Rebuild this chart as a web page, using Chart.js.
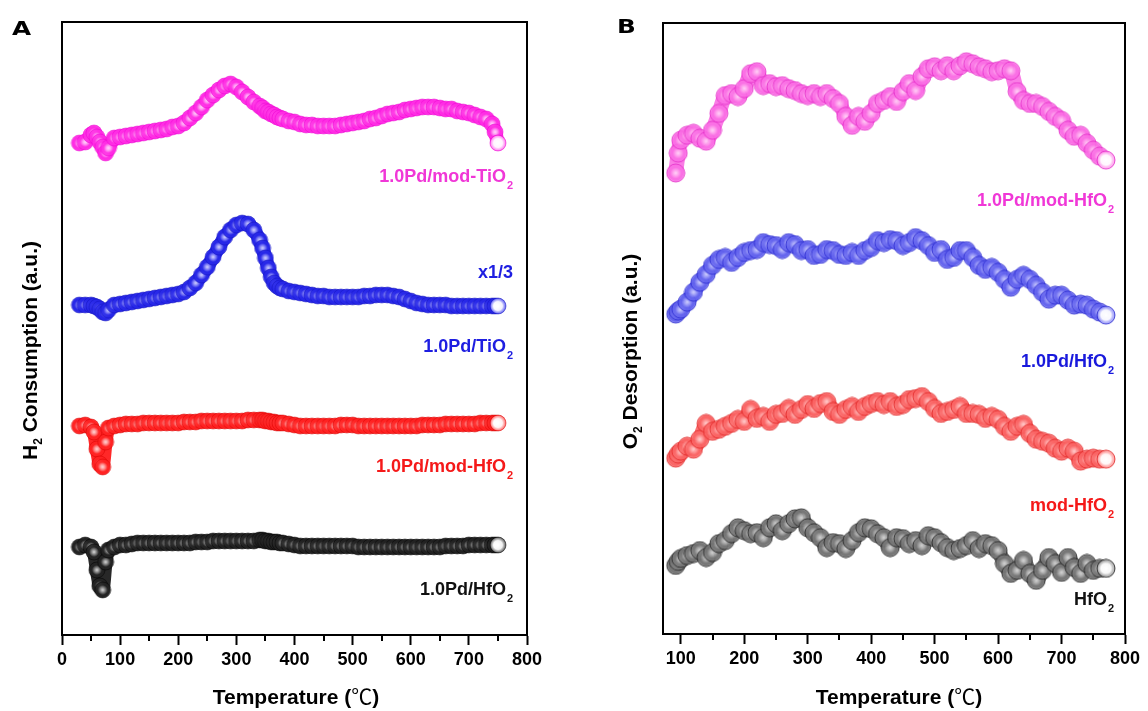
<!DOCTYPE html>
<html>
<head>
<meta charset="utf-8">
<script src="https://cdn.jsdelivr.net/npm/chart.js@4.4.0/dist/chart.umd.min.js"></script>
<style>
  html, body { margin: 0; padding: 0; background: #fff; }
  #page { position: relative; width: 1148px; height: 711px; overflow: hidden;
          font-family: "Liberation Sans", Arial, sans-serif; font-weight: bold; color: #000; }
  canvas { position: absolute; top: 0; }
  .letter { position: absolute; font-family: "DejaVu Sans", sans-serif; font-size: 19px; line-height: 20px;
            transform-origin: left top; transform: scaleX(1.3); }
  .xtitle { position: absolute; width: 300px; text-align: center; font-size: 21px; line-height: 21px; white-space: nowrap; }
  .ytitle { position: absolute; width: 400px; height: 21px; text-align: center; font-size: 21px; line-height: 21px;
            white-space: nowrap; transform: rotate(-90deg); }
  .deg { font-family: "Noto Sans CJK SC", sans-serif; font-weight: normal; }
  sub { font-size: 12px; line-height: 0; vertical-align: -5px; }
</style>
</head>
<body>
<div id="page">
  <canvas id="chartA" width="560" height="711" style="left:0"></canvas>
  <canvas id="chartB" width="558" height="711" style="left:590px"></canvas>
  <div class="letter" style="left:12px; top:18px">A</div>
  <div class="letter" style="left:617px; top:16px">B</div>
  <div class="xtitle" style="left:146px; top:685px">Temperature (<span class="deg">℃</span>)</div>
  <div class="xtitle" style="left:749px; top:685px">Temperature (<span class="deg">℃</span>)</div>
  <div class="ytitle" style="left:-171px; top:340px">H<sub>2</sub> Consumption (a.u.)</div>
  <div class="ytitle" style="left:429px; top:341px">O<sub>2</sub> Desorption (a.u.)</div>
</div>
<script>
/* Panel A: H2-TPR, temperatures in degC */
const tempsA = [30, 40, 50, 55, 60, 65, 70, 75, 80,
  90, 100, 110, 120, 130, 140, 150, 160, 170, 180,
  190, 200, 210, 220, 230, 240, 250, 260, 270, 280,
  290, 300, 310, 320, 330, 340,
  345, 350, 355, 360, 365, 370, 375, 380,
  390, 400, 410, 420, 430, 440, 450, 460, 470, 480,
  490, 500, 510, 520, 530, 540, 550, 560, 570, 580,
  590, 600, 610, 620, 630, 640, 650, 660, 670, 680,
  690, 700, 710, 720, 730, 740,
  745, 750];

const pdModTiO2 = [489, 490, 497, 499, 495, 490, 485, 479, 484,
  494, 495, 496, 497, 498, 499, 500, 501, 502, 503,
  505, 506, 509, 514, 519, 525, 532, 537, 542, 546,
  548, 545, 540, 535, 530, 526,
  524, 521, 520, 518, 517, 515, 514, 513,
  511, 510, 508, 507, 507, 506, 506, 506, 506, 507,
  508, 509, 510, 511, 513, 514, 516, 518, 519, 520,
  522, 523, 524, 525, 525, 525, 524, 523, 523, 521,
  520, 519, 517, 515, 513, 508,
  500, 489];

const pdTiO2 = [327, 327, 327, 326, 325, 323, 320, 319, 322,
  327, 328, 329, 330, 331, 332, 333, 334, 335, 336,
  337, 338, 340, 344, 349, 357, 365, 375, 385, 395,
  402, 407, 409, 408, 402, 392,
  384, 374, 364, 355, 349, 346, 344, 343,
  341, 340, 339, 338, 337, 336, 336, 335, 335, 335,
  335, 335, 335, 336, 336, 337, 337, 337, 336, 335,
  333, 331, 329, 328, 327, 327, 327, 327, 326, 326,
  326, 326, 326, 326, 326, 326,
  326, 326];

const pdModHfO2A = [206, 207, 205, 200, 183, 168, 165, 190, 204,
  206, 207, 208, 208, 208, 209, 209, 209, 209, 209,
  209, 209, 210, 210, 210, 211, 211, 211, 211, 211,
  211, 211, 211, 212, 212, 212,
  212, 211, 211, 210, 210, 209, 209, 209,
  208, 207, 206, 206, 206, 206, 206, 206, 206, 207,
  207, 207, 206, 206, 206, 206, 206, 206, 206, 206,
  206, 206, 206, 207, 207, 207, 207, 208, 208, 208,
  208, 208, 208, 209, 209, 209,
  209, 209];

const pdHfO2A = [85, 87, 85, 80, 62, 46, 42, 70, 82,
  85, 87, 87, 88, 89, 89, 89, 89, 89, 89,
  89, 89, 89, 89, 90, 90, 90, 91, 91, 91,
  91, 91, 91, 91, 91, 92,
  92, 91, 91, 90, 90, 90, 89, 89,
  88, 87, 86, 86, 86, 86, 86, 86, 86, 86,
  86, 86, 85, 85, 85, 85, 85, 85, 85, 85,
  85, 85, 85, 85, 85, 85, 85, 86, 86, 86,
  86, 87, 87, 87, 87, 87,
  87, 87];

/* Panel B: O2-TPD */
const tempsB = [92, 96,
  100, 110, 120, 130, 140, 150, 160, 170, 180, 190,
  200, 210, 220, 230, 240, 250, 260, 270, 280, 290,
  300, 310, 320, 330, 340, 350, 360, 370, 380, 390,
  400, 410, 420, 430, 440, 450, 460, 470, 480, 490,
  500, 510, 520, 530, 540, 550, 560, 570, 580, 590,
  600, 610, 620, 630, 640, 650, 660, 670, 680, 690,
  700, 710, 720, 730, 740, 750, 760, 770];

const pdModHfO2B = [463, 483,
  496, 501, 503, 498, 495, 506, 523, 541, 543, 540,
  548, 563, 565, 551, 553, 550, 551, 548, 546, 543,
  541, 543, 540, 543, 538, 533, 520, 511, 520, 515,
  523, 533, 536, 540, 535, 545, 553, 546, 560, 568,
  570, 566, 571, 566, 571, 575, 573, 570, 568, 565,
  566, 568, 566, 545, 536, 533, 533, 530, 525, 520,
  516, 506, 500, 501, 493, 486, 480, 476];

const pdHfO2B = [321, 324,
  326, 333, 343, 353, 361, 370, 376, 378, 373, 378,
  383, 385, 386, 393, 391, 390, 386, 393, 391, 385,
  386, 380, 381, 386, 385, 381, 380, 383, 380, 385,
  388, 395, 393, 396, 395, 390, 393, 398, 395, 390,
  383, 386, 376, 378, 385, 385, 378, 370, 366, 368,
  363, 356, 348, 356, 360, 356, 350, 343, 336, 340,
  340, 335, 330, 331, 330, 326, 323, 320];

const modHfO2B = [176, 180,
  183, 188, 185, 195, 211, 203, 205, 208, 211, 215,
  213, 225, 216, 218, 213, 220, 221, 226, 220, 225,
  230, 226, 231, 233, 223, 220, 225, 228, 223, 228,
  231, 233, 230, 233, 228, 230, 235, 236, 238, 233,
  226, 221, 223, 225, 228, 221, 221, 220, 216, 218,
  215, 208, 203, 208, 210, 201, 195, 193, 191, 186,
  183, 186, 183, 173, 175, 176, 175, 175];

const hfO2B = [68, 72,
  75, 78, 80, 83, 76, 81, 90, 93, 100, 106,
  103, 100, 101, 96, 106, 110, 103, 110, 115, 116,
  106, 101, 96, 86, 91, 90, 85, 93, 101, 106,
  105, 100, 96, 86, 96, 95, 90, 93, 88, 98,
  96, 91, 86, 83, 85, 88, 93, 85, 90, 88,
  83, 70, 60, 63, 73, 60, 53, 63, 76, 70,
  61, 76, 66, 60, 70, 63, 65, 65];

const ticksMinorA = [50, 150, 250, 350, 450, 550, 650, 750];
const ticksMinorB = [150, 250, 350, 450, 550, 650, 750];

const FONT = '"Liberation Sans", Arial, sans-serif';

/* circle sprite with a shaded fill, used as point style */
function makeSprite(r, stops, line) {
    const s = Math.ceil(r * 2 + 2);
    const c = document.createElement('canvas');
    c.width = s; c.height = s;
    const g = c.getContext('2d');
    const m = s / 2;
    const grad = g.createRadialGradient(m, m, 0, m, m, r);
    stops.forEach(st => grad.addColorStop(st[0], st[1]));
    g.beginPath();
    g.arc(m, m, r, 0, Math.PI * 2);
    g.fillStyle = grad;
    g.fill();
    g.lineWidth = 1;
    g.strokeStyle = line;
    g.stroke();
    return c;
}

/* body sprite + the brighter one that ends the curve */
function spritePair(r, light, color, line, core) {
    return {
        body: makeSprite(r, [[0, core], [0.28, light], [0.62, color], [1, color]], line),
        end: makeSprite(r, [[0, 'rgba(255,255,255,1)'], [0.55, 'rgba(255,255,255,0.95)'], [0.85, light], [1, color]], line),
    };
}

/* frame, minor ticks and curve labels */
const panelDecor = {
    id: 'panelDecor',
    afterDraw(chart, args, opts) {
        const { ctx, chartArea: a } = chart;
        const x = chart.scales.x, y = chart.scales.y;
        ctx.save();
        ctx.strokeStyle = '#000';
        ctx.lineWidth = 2;
        ctx.strokeRect(a.left, a.top, a.right - a.left, a.bottom - a.top);
        opts.minor.forEach(v => {
            const px = Math.round(x.getPixelForValue(v));
            ctx.beginPath();
            ctx.moveTo(px, a.bottom);
            ctx.lineTo(px, a.bottom + 6);
            ctx.stroke();
        });
        ctx.textBaseline = 'alphabetic';
        opts.labels.forEach(lab => {
            ctx.font = 'bold 18px ' + FONT;
            const w1 = ctx.measureText(lab.text).width;
            ctx.font = 'bold 11px ' + FONT;
            const w2 = lab.sub ? ctx.measureText(lab.sub).width + 1 : 0;
            const right = x.getPixelForValue(lab.at[0]);
            const base = y.getPixelForValue(lab.at[1]);
            const start = right - w1 - w2;
            ctx.fillStyle = lab.color;
            ctx.font = 'bold 18px ' + FONT;
            ctx.fillText(lab.text, start, base);
            if (lab.sub) {
                ctx.font = 'bold 11px ' + FONT;
                ctx.fillText(lab.sub, start + w1 + 1, base + 7);
            }
        });
        ctx.restore();
    }
};

function makePanel(canvasId, temps, series, range, minor, labels, pad, axisH, band) {
    const datasets = series.map(s => ({
        data: temps.map((t, i) => ({ x: t, y: s.values[i] })),
        showLine: true,
        borderColor: s.band,
        borderWidth: band,
        borderCapStyle: 'round',
        borderJoinStyle: 'round',
        tension: 0.25,
        pointStyle: c => (c.dataIndex === temps.length - 1 ? s.sprites.end : s.sprites.body),
        pointRadius: 8,
        pointHoverRadius: 8,
    }));
    return new Chart(document.getElementById(canvasId), {
        type: 'scatter',
        data: { datasets },
        options: {
            animation: false,
            responsive: false,
            devicePixelRatio: 1,
            events: [],
            layout: { padding: pad },
            plugins: {
                legend: { display: false },
                tooltip: { enabled: false },
                panelDecor: { minor, labels },
            },
            scales: {
                x: {
                    type: 'linear',
                    min: range.x[0],
                    max: range.x[1],
                    afterFit: s => { s.height = axisH; },
                    ticks: {
                        stepSize: 100,
                        includeBounds: false,
                        maxRotation: 0,
                        padding: 4,
                        color: '#000',
                        font: { family: FONT, size: 18, weight: 'bold' },
                    },
                    grid: { drawOnChartArea: false, tickLength: 10, tickWidth: 2, tickColor: '#000' },
                    border: { display: true, color: '#000', width: 2 },
                },
                y: { display: false, min: range.y[0], max: range.y[1] },
            },
        },
        plugins: [panelDecor],
    });
}

/* sprites */
const rA = 8, rB = 9;
const pinkA = spritePair(rA, 'rgba(255,170,245,0.9)', 'rgba(255,45,228,0.9)', 'rgba(235,0,210,0.5)', 'rgba(255,235,252,0.9)');
const blueA = spritePair(rA, 'rgba(150,150,250,0.9)', 'rgba(40,40,232,0.9)', 'rgba(20,20,190,0.5)', 'rgba(230,230,255,0.9)');
const redA = spritePair(rA, 'rgba(255,160,160,0.9)', 'rgba(255,35,35,0.9)', 'rgba(215,0,0,0.5)', 'rgba(255,232,232,0.9)');
const blackA = spritePair(rA, 'rgba(150,150,150,0.9)', 'rgba(35,35,35,0.92)', 'rgba(0,0,0,0.5)', 'rgba(235,235,235,0.9)');

const pinkB = spritePair(rB, 'rgba(255,175,240,0.85)', 'rgba(250,110,228,0.85)', 'rgba(225,40,198,0.75)', 'rgba(255,225,250,0.85)');
const blueB = spritePair(rB, 'rgba(170,170,250,0.85)', 'rgba(100,100,238,0.85)', 'rgba(40,40,205,0.75)', 'rgba(225,225,255,0.85)');
const redB = spritePair(rB, 'rgba(255,170,170,0.85)', 'rgba(250,100,100,0.85)', 'rgba(222,35,35,0.75)', 'rgba(255,225,225,0.85)');
const blackB = spritePair(rB, 'rgba(185,185,185,0.85)', 'rgba(118,118,118,0.88)', 'rgba(35,35,35,0.8)', 'rgba(230,230,230,0.85)');

makePanel('chartA', tempsA, [
    { values: pdModTiO2, sprites: pinkA, band: 'rgb(255,50,228)' },
    { values: pdTiO2, sprites: blueA, band: 'rgb(42,42,232)' },
    { values: pdModHfO2A, sprites: redA, band: 'rgb(255,40,40)' },
    { values: pdHfO2A, sprites: blackA, band: 'rgb(40,40,40)' },
], { x: [0, 800], y: [-3, 610] }, ticksMinorA, [
    { text: '1.0Pd/mod-TiO', sub: '2', color: 'rgb(240,55,215)', at: [776, 450] },
    { text: 'x1/3', sub: '', color: 'rgb(30,30,225)', at: [776, 354] },
    { text: '1.0Pd/TiO', sub: '2', color: 'rgb(30,30,225)', at: [776, 280] },
    { text: '1.0Pd/mod-HfO', sub: '2', color: 'rgb(245,25,25)', at: [776, 160] },
    { text: '1.0Pd/HfO', sub: '2', color: '#111', at: [776, 37] },
], { left: 62, right: 33, top: 22, bottom: 0 }, 76, 14);

makePanel('chartB', tempsB, [
    { values: pdModHfO2B, sprites: pinkB, band: 'rgb(250,125,230)' },
    { values: pdHfO2B, sprites: blueB, band: 'rgb(112,112,240)' },
    { values: modHfO2B, sprites: redB, band: 'rgb(250,115,115)' },
    { values: hfO2B, sprites: blackB, band: 'rgb(128,128,128)' },
], { x: [72, 800], y: [-1, 614] }, ticksMinorB, [
    { text: '1.0Pd/mod-HfO', sub: '2', color: 'rgb(240,55,215)', at: [783, 430] },
    { text: '1.0Pd/HfO', sub: '2', color: 'rgb(25,25,220)', at: [783, 268] },
    { text: 'mod-HfO', sub: '2', color: 'rgb(245,25,25)', at: [783, 123] },
    { text: 'HfO', sub: '2', color: '#111', at: [783, 28] },
], { left: 73, right: 19, top: 19, bottom: 0 }, 77, 15);
</script>
</body>
</html>
